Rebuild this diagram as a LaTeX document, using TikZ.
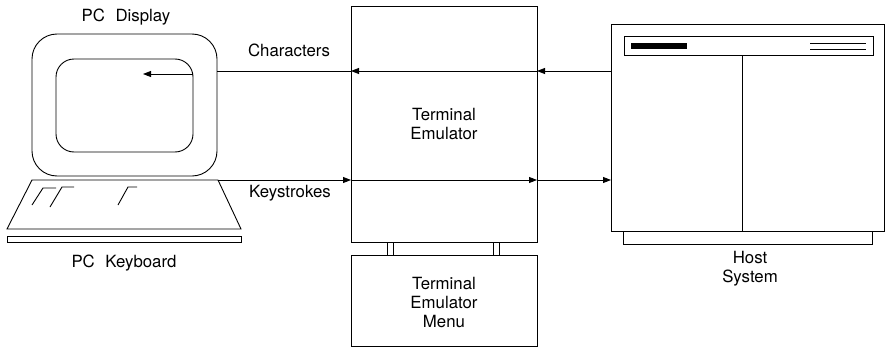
\documentclass[tikz,border=0pt]{standalone}
\usepackage{fontspec}
\setmainfont{TeX Gyre Heros}
\usetikzlibrary{arrows.meta}
\begin{document}
\begin{tikzpicture}[x=1pt,y=-1pt,
  line width=0.9pt,
  every node/.style={inner sep=0pt,outer sep=0pt},
  box/.style={draw,rectangle},
  lbl/.style={align=center,font=\fontsize{16.8}{19}\selectfont},
  arr/.style={-{Triangle[length=8pt,width=6pt]}}]
\useasboundingbox (0,0) rectangle (888,348);

% PC display
\node[box,rounded corners=25pt,minimum width=185pt,minimum height=142pt] (mon) at (124.5,105) {};
\node[box,rounded corners=18pt,minimum width=137pt,minimum height=93pt] (scr) at (124.5,105.5) {};
\node[lbl] (disp) at (126,17) {PC\hspace{0.35em} Display};

% PC keyboard
\coordinate (kbtl) at (32,180);
\coordinate (kbtr) at (218,180);
\coordinate (kbbr) at (241,229);
\coordinate (kbbl) at (7,229);
\draw (kbtl) -- (kbtr) -- (kbbr) -- (kbbl) -- cycle;
\draw (7,236) rectangle (241,242);
\draw (32,205) -- (43,188) -- (56,188);
\draw (50,207) -- (62,187) -- (74,187);
\draw (118,205) -- (128,187) -- (137,187);
\node[lbl] (kbd) at (124,263) {PC\hspace{0.35em} Keyboard};

% Terminal emulator and its menu
\node[box,minimum width=186pt,minimum height=236pt] (te) at (444,124) {};
\node[lbl] (telbl) at (444,124) {Terminal\\Emulator};
\node[box,minimum width=186pt,minimum height=91pt] (menu) at (444,301) {};
\node[lbl] (menulbl) at (444,302) {Terminal\\Emulator\\Menu};
\foreach \px in {387,393,493,499}
  \draw (te.south -| \px,0) -- (menu.north -| \px,0);

% Host system
\node[box,minimum width=273pt,minimum height=207pt] (host) at (747.5,127.5) {};
\draw (624,36) rectangle (873,55);
\fill (631,43) rectangle (687,49);
\draw (810,43) -- (866,43);
\draw (810,49) -- (866,49);
\draw (742,55) -- (742,231);
\draw (623,231) -- (623,244) -- (872,244) -- (872,231);
\node[lbl] (hostlbl) at (750,268.5) {Host\\System};

% Data flows
\coordinate (chy) at (0,71);
\coordinate (kyy) at (0,180);
\coordinate (scy) at (0,74);
\coordinate (cursor) at (143,74);
\draw[arr] (host.west |- chy) -- (te.east |- chy);
\draw[arr] (te.east |- chy) -- (te.west |- chy);
\draw (te.west |- chy) -- (mon.east |- chy);
\draw[arr] (scr.east |- scy) -- (cursor);
\node[lbl] (chars) at (289,50) {Characters};

\draw[arr] (kbtr) -- (te.west |- kyy);
\draw[arr] (te.west |- kyy) -- (te.east |- kyy);
\draw[arr] (te.east |- kyy) -- (host.west |- kyy);
\node[lbl] (keys) at (290,193) {Keystrokes};
\end{tikzpicture}
\end{document}
